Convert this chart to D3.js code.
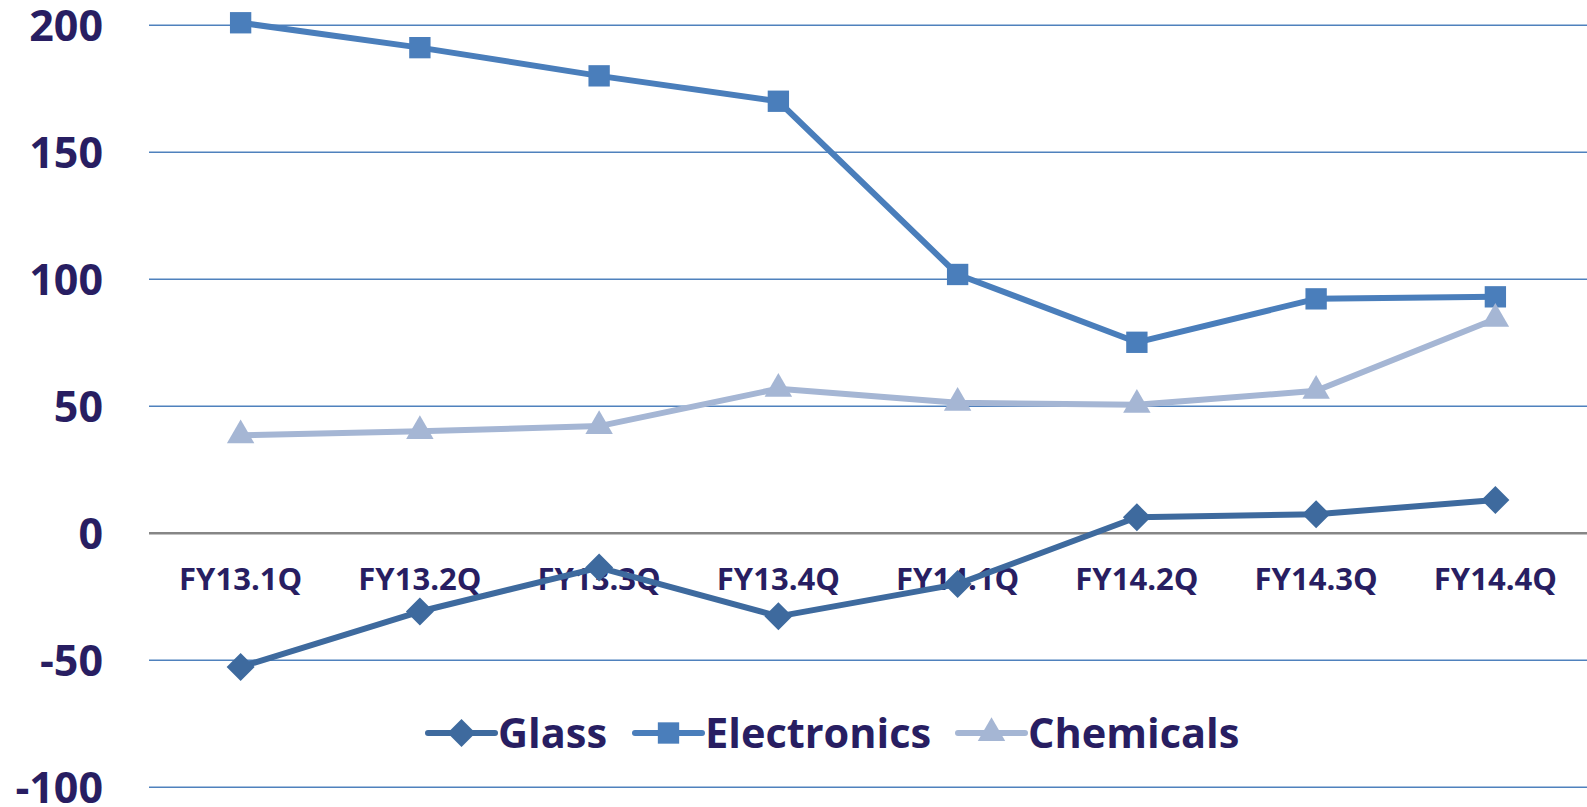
<!DOCTYPE html>
<html>
<head>
<meta charset="utf-8">
<script src="https://cdn.jsdelivr.net/npm/d3@7"></script>
<style>
  body { margin: 0; background: #fff; }
  text { font-family: "Open Sans", "Noto Sans", sans-serif; font-weight: 700; fill: #281e62; }
</style>
</head>
<body>
<div class="container"></div>
<script>
const quarters = ["FY13.1Q", "FY13.2Q", "FY13.3Q", "FY13.4Q", "FY14.1Q", "FY14.2Q", "FY14.3Q", "FY14.4Q"];
const glass = [-52.6, -30.8, -13.5, -32.7, -20.0, 6.3, 7.5, 13.1];
const electronics = [201.0, 191.2, 180.1, 170.1, 101.9, 75.2, 92.3, 93.1];
const chemicals = [38.6, 40.2, 42.2, 56.9, 51.4, 50.6, 56.1, 84.4];
const yTicks = [-100, -50, 0, 50, 100, 150, 200];

const width = 1587;
const height = 807;

const series = [
  {name: "Glass", values: glass, color: "#3e6a9e", symbol: d3.symbolDiamond2},
  {name: "Electronics", values: electronics, color: "#4a7ebb", symbol: d3.symbolSquare2},
  {name: "Chemicals", values: chemicals, color: "#a5b6d4", symbol: d3.symbolTriangle2}
];

const svg = d3.select(".container").append("svg").attr("width", width).attr("height", height);

const x = d3.scaleBand().domain(quarters).range([151, 1585]);
const y = d3.scaleLinear().domain([-100, 200]).range([787.3, 25.3]);

// grid lines
svg.append("g").attr("class", "grid")
  .selectAll("line")
  .data(yTicks)
  .enter().append("line")
    .attr("x1", 149).attr("x2", width)
    .attr("y1", d => y(d)).attr("y2", d => y(d))
    .attr("stroke", d => d === 0 ? "#868686" : "#4f81bd")
    .attr("stroke-width", d => d === 0 ? 2.5 : 1.6);

// y labels
svg.append("g").selectAll("text")
  .data(yTicks)
  .enter().append("text")
    .attr("x", 103)
    .attr("y", d => y(d))
    .attr("dy", "0.36em")
    .attr("text-anchor", "end")
    .style("font-size", "43px")
    .text(d => d);

// x labels
svg.append("g").selectAll("text")
  .data(quarters)
  .enter().append("text")
    .attr("x", d => x(d) + x.bandwidth() / 2)
    .attr("y", 590)
    .attr("text-anchor", "middle")
    .style("font-size", "31px")
    .text(d => d);

const line = d3.line()
  .x((d, i) => x(quarters[i]) + x.bandwidth() / 2)
  .y(d => y(d));

const sizes = {"Glass": 500, "Electronics": 580, "Chemicals": 540};

series.forEach(s => {
  const g = svg.append("g");
  g.append("path")
    .attr("d", line(s.values))
    .attr("fill", "none")
    .attr("stroke", s.color)
    .attr("stroke-width", 6)
    .attr("stroke-linejoin", "round");
  g.selectAll("path.pt")
    .data(s.values)
    .enter().append("path")
      .attr("class", "pt")
      .attr("transform", (d, i) => `translate(${x(quarters[i]) + x.bandwidth() / 2},${y(d)})`)
      .attr("d", d3.symbol().type(s.symbol).size(sizes[s.name]))
      .attr("fill", s.color);
});

// legend
const legendX = [428, 635, 958];
const legend = svg.append("g").attr("class", "legend");
series.forEach((s, i) => {
  const g = legend.append("g").attr("transform", `translate(${legendX[i]},733)`);
  g.append("line")
    .attr("x1", 0).attr("x2", 67)
    .attr("stroke", s.color).attr("stroke-width", 6).attr("stroke-linecap", "round");
  g.append("path")
    .attr("transform", "translate(33.5,0)")
    .attr("d", d3.symbol().type(s.symbol).size(sizes[s.name]))
    .attr("fill", s.color);
  g.append("text")
    .attr("x", 70)
    .attr("dy", "0.36em")
    .style("font-size", "41.5px")
    .text(s.name);
});
</script>
</body>
</html>
